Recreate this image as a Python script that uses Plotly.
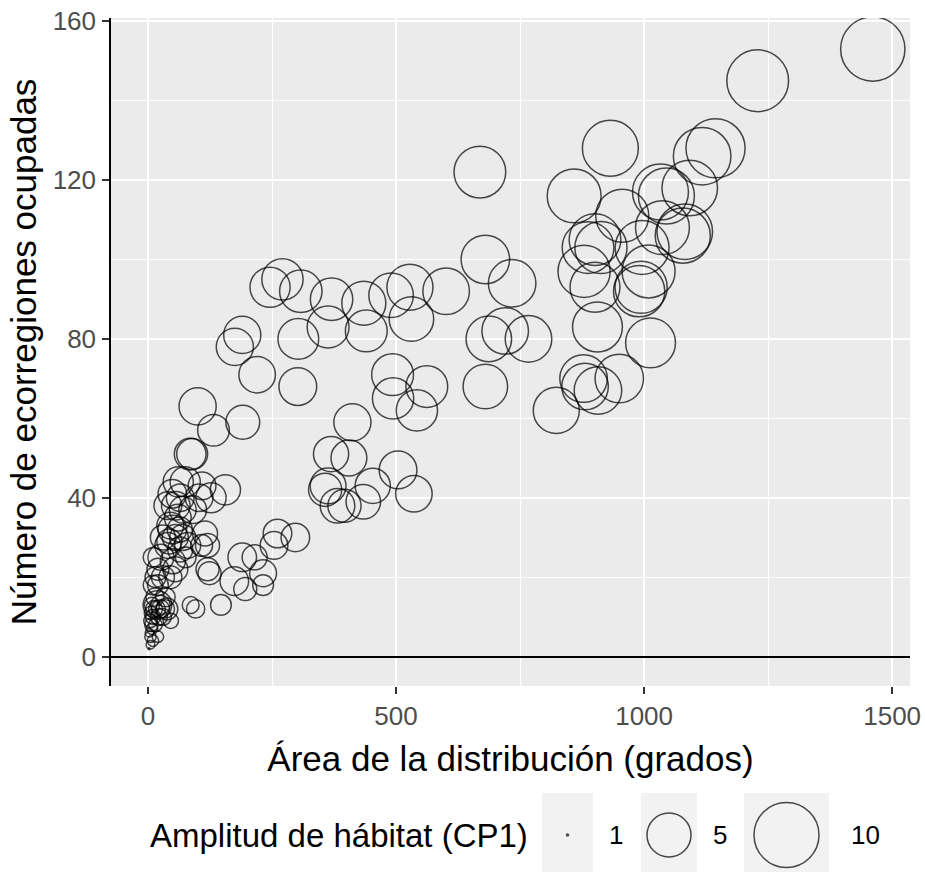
import plotly.graph_objects as go
import numpy as np

# ---------------- data ----------------
area = [1461, 1229, 1144, 1117, 932, 1092, 1033, 1045, 859, 956, 1037, 1082, 1078, 901, 887, 913, 996, 879, 901, 994,
        1009, 990, 906, 1013, 878, 881, 907, 950, 823, 669, 680, 734, 767, 720, 687, 680,
        601, 528, 490, 531, 435, 370, 308, 363, 440, 303, 493, 562, 494, 542, 302, 412, 369, 405, 504, 453, 536, 357, 363,
        382, 396, 434, 246, 271, 190, 175, 220, 100, 132, 191, 85, 89, 61, 75, 49, 109, 103, 156, 127, 56, 90, 49, 64, 115,
        120, 43, 10, 26, 76, 120, 124, 190, 174, 196, 215, 232, 261, 297, 254, 232, 147, 96, 86, 46, 108, 19, 38,
        30, 20, 35, 25, 45, 40, 55, 60, 55, 45, 65, 70, 50, 80, 30, 65, 70, 40,
        5, 5, 8, 5, 10, 3, 12, 8, 15, 20, 18, 6, 10, 2, 7, 14, 22, 25, 30, 35, 15, 20, 10]
ecoreg = [153, 145, 128, 126, 128, 118, 117, 116, 116, 111, 108, 107, 106, 105, 103, 103, 103, 97, 93, 93,
          97, 92, 83, 79, 70, 68, 67, 70, 62, 122, 100, 94, 80, 82, 80, 68,
          92, 93, 91, 85, 89, 90, 92, 83, 82, 80, 71, 68, 65, 62, 68, 59, 51, 50, 47, 43, 41, 42, 43,
          38, 38, 39, 93, 95, 81, 78, 71, 63, 57, 59, 51, 51, 44, 44, 41, 43, 40, 42, 40, 38, 37, 32, 32, 31,
          28, 29, 25, 25, 25, 22, 21, 25, 19, 17, 25, 21, 31, 30, 28, 18, 13, 12, 13, 9, 28, 13, 12,
          20, 18, 15, 13, 33, 28, 30, 35, 22, 20, 27, 30, 24, 28, 30, 40, 37, 38,
          3, 5, 7, 9, 10, 6, 12, 13, 8, 5, 12, 11, 4, 2, 8, 15, 10, 12, 10, 12, 20, 22, 18]
cp1 = [9.8, 9.1, 8.4, 8.0, 7.6, 7.5, 7.6, 7.6, 7.1, 6.9, 7.1, 7.5, 7.4, 6.6, 6.6, 6.7, 7.1, 6.7, 6.2, 6.7,
       6.9, 6.5, 6.2, 6.2, 5.7, 5.5, 5.7, 5.9, 5.4, 6.6, 5.9, 5.7, 5.5, 5.5, 5.3, 5.1,
       5.5, 5.4, 5.1, 5.1, 5.0, 4.7, 4.7, 4.6, 4.6, 4.4, 4.6, 4.6, 4.5, 4.5, 3.9, 3.8, 3.5, 3.6, 3.9, 3.5, 3.7, 3.2, 3.6,
       3.4, 3.2, 3.4, 4.3, 4.5, 3.8, 3.8, 3.7, 3.8, 3.0, 3.3, 3.0, 2.9, 2.8, 2.8, 2.6, 2.5, 2.5, 2.8, 2.8, 2.6, 2.5, 2.6, 2.2, 2.2,
       2.1, 2.2, 1.7, 2.3, 1.8, 2.0, 2.0, 2.6, 2.6, 2.0, 2.2, 2.4, 2.6, 2.6, 2.5, 1.8, 1.8, 1.6, 1.5, 1.4, 1.9, 2.6, 1.9,
       2.0, 1.8, 1.7, 1.7, 2.4, 2.3, 2.3, 2.4, 2.2, 2.0, 2.2, 2.3, 2.2, 2.3, 2.2, 2.5, 2.4, 2.5,
       1.1, 1.2, 1.2, 1.3, 1.4, 1.1, 1.5, 1.4, 1.3, 1.2, 1.5, 1.3, 1.2, 1.0, 1.3, 1.6, 1.5, 1.6, 1.5, 1.6, 1.8, 1.9, 1.7]

legend_breaks = [1, 5, 10]
x_ticks = [0, 500, 1000, 1500]
y_ticks = [0, 40, 80, 120, 160]

# size scale (area-like, ggplot scale_size style): diameter in px
def size_scale(v):
    v = np.asarray(v, dtype=float)
    return 2 + 21 * np.sqrt(np.clip(v - 1, 0, None))

W, H = 925, 873
ML, MR, MT = 111, 15, 18
panel_bottom = 686
paper_h = H - MT
y_dom0 = (H - panel_bottom) / paper_h

fig = go.Figure()
# panel background (only for the main subplot)
fig.add_shape(type="rect", xref="x domain", yref="y domain", x0=0, x1=1, y0=0, y1=1,
              fillcolor="#EBEBEB", line=dict(width=0), layer="below")

fig.add_trace(go.Scatter(
    x=area, y=ecoreg, mode="markers",
    marker=dict(size=size_scale(cp1), sizemode="diameter", color="rgba(0,0,0,0)",
                line=dict(color="black", width=1.5)),
    showlegend=False, hoverinfo="skip", xaxis="x", yaxis="y"))

# ---------- manual size legend (on a pixel-unit helper axis) ----------
key_boxes = [(542, 593), (641, 697), (744, 829)]
key_top, key_bot = 793, 872
key_cy = 835
label_x = [616, 720, 865]
for (a, b) in key_boxes:
    fig.add_shape(type="rect", xref="x2", yref="y2", x0=a, x1=b, y0=key_top, y1=key_bot,
                  fillcolor="#F2F2F2", line=dict(width=0), layer="below")
fig.add_trace(go.Scatter(
    x=[(a + b) / 2 for a, b in key_boxes], y=[key_cy] * 3, mode="markers",
    marker=dict(size=size_scale(legend_breaks), sizemode="diameter", color="rgba(0,0,0,0)",
                line=dict(color="black", width=1.5)),
    showlegend=False, hoverinfo="skip", xaxis="x2", yaxis="y2"))
for lx, lab in zip(label_x, legend_breaks):
    fig.add_annotation(x=lx, y=key_cy, xref="x2", yref="y2", text=str(lab), showarrow=False,
                       font=dict(family="Liberation Sans", size=26, color="black"))
fig.add_annotation(x=148, y=key_cy, xref="x2", yref="y2", text="Amplitud de hábitat (CP1)",
                   showarrow=False, xanchor="left",
                   font=dict(family="Liberation Sans", size=33, color="black"))

font_tick = dict(family="Liberation Sans", size=26, color="#4D4D4D")
font_title = dict(family="Liberation Sans", size=35, color="black")

fig.update_layout(
    width=W, height=H,
    margin=dict(l=ML, r=MR, t=MT, b=0, pad=0),
    paper_bgcolor="white", plot_bgcolor="white",
    xaxis=dict(domain=[0, 1], range=[-74.6, 1536], tickvals=x_ticks, ticktext=[str(t) for t in x_ticks],
               showgrid=True, gridcolor="white", gridwidth=2, zeroline=False,
               minor=dict(dtick=250, tick0=0, showgrid=True, gridcolor="white", gridwidth=1),
               ticks="outside", ticklen=7, tickwidth=1.5, tickcolor="#333333",
               tickfont=font_tick, showline=False, anchor="y",
               title=dict(text="Área de la distribución (grados)", font=font_title, standoff=16)),
    yaxis=dict(domain=[y_dom0, 1], range=[-7.4, 160.8], tickvals=y_ticks, ticktext=[str(t) for t in y_ticks],
               showgrid=True, gridcolor="white", gridwidth=2,
               zeroline=True, zerolinecolor="black", zerolinewidth=1.5,
               minor=dict(dtick=20, tick0=0, showgrid=True, gridcolor="white", gridwidth=1),
               ticks="outside", ticklen=7, tickwidth=1.5, tickcolor="#333333",
               tickfont=font_tick, showline=True, linecolor="black", linewidth=1.5, anchor="x",
               ticklabelstandoff=1,
               title=dict(text="Número de ecorregiones ocupadas", font=font_title, standoff=5)),
    xaxis2=dict(domain=[0, 1], range=[ML, W - MR], visible=False, anchor="y2", fixedrange=True),
    yaxis2=dict(domain=[0, (H - 790) / paper_h], range=[H, 790], visible=False, anchor="x2", fixedrange=True),
)
fig.write_html("out.html")
